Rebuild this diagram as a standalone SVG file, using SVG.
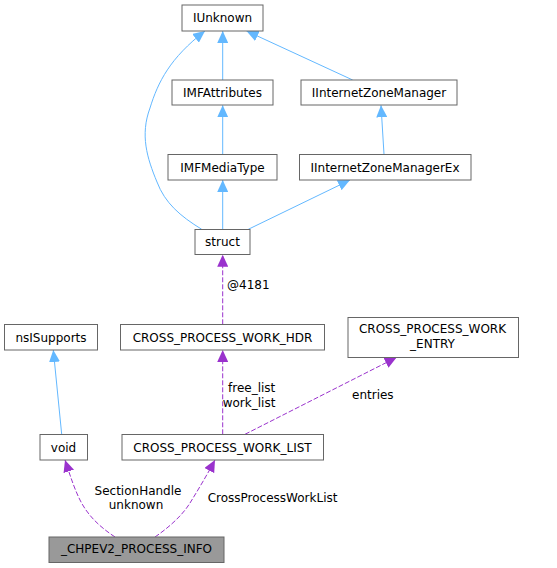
<svg xmlns="http://www.w3.org/2000/svg" width="557" height="568" viewBox="0 0 557 568">
<style>
.node rect{fill:#ffffff;stroke:#666666;stroke-width:1}
.node.root rect{fill:#999999}
text{font-family:"DejaVu Sans","Liberation Sans",sans-serif;font-size:12px;fill:#000000}
.node text{text-anchor:middle}
.inh{fill:none;stroke:#63B8FF;stroke-width:1}
.use{fill:none;stroke:#9A32CD;stroke-width:1;stroke-dasharray:5,2}
</style>
<defs>
<marker id="ab" viewBox="0 0 12 11" refX="12" refY="5.5" markerWidth="12" markerHeight="11" markerUnits="userSpaceOnUse" orient="auto">
<polygon points="0,0 12,5.5 0,11" fill="#63B8FF" stroke="none"/>
</marker>
<marker id="ap" viewBox="0 0 12 11" refX="12" refY="5.5" markerWidth="12" markerHeight="11" markerUnits="userSpaceOnUse" orient="auto">
<polygon points="0,0 12,5.5 0,11" fill="#9A32CD" stroke="none"/>
</marker>
</defs>
<g id="edges">
<path class="inh" d="M222.7,80 L222.7,31" marker-end="url(#ab)"/>
<path class="inh" d="M352.7,80 L246.5,31" marker-end="url(#ab)"/>
<path class="inh" d="M201.7,229.3 C180,216 165,203 157,182 C147,158 140,135 150,108 C158,82 170,58 205,31" marker-end="url(#ab)"/>
<path class="inh" d="M222.7,154.3 L222.7,105.3" marker-end="url(#ab)"/>
<path class="inh" d="M384,154.3 L381,105.3" marker-end="url(#ab)"/>
<path class="inh" d="M222.7,229.3 L222.7,180" marker-end="url(#ab)"/>
<path class="inh" d="M248.3,229.3 L350,180" marker-end="url(#ab)"/>
<path class="use" d="M222.7,324.3 L222.7,254.7" marker-end="url(#ap)"/>
<path class="inh" d="M61.7,434.3 L53.3,350" marker-end="url(#ab)"/>
<path class="use" d="M222.7,434.3 L222.7,350" marker-end="url(#ap)"/>
<path class="use" d="M245,434.3 L396.7,357.3" marker-end="url(#ap)"/>
<path class="use" d="M115,537 C100,527 88,516 80,500 C74,488 70,475 65,460" marker-end="url(#ap)"/>
<path class="use" d="M155,537 C168,528 182,516 190,503 C198,490 207,475 215,460" marker-end="url(#ap)"/>
<text x="227" y="289.3">@4181</text>
<text x="228" y="391.6">free_list</text>
<text x="222.7" y="406.6">work_list</text>
<text x="352" y="398.6">entries</text>
<text x="138" y="494.6" text-anchor="middle">SectionHandle</text>
<text x="136" y="508.6" text-anchor="middle">unknown</text>
<text x="207.7" y="501.6">CrossProcessWorkList</text>
</g>
<g id="IUnknown" class="node"><rect x="182" y="5" width="81" height="26"/><text x="222.5" y="22.3">IUnknown</text></g>
<g id="IMFAttributes" class="node"><rect x="172" y="80" width="101" height="25"/><text x="222.5" y="96.8">IMFAttributes</text></g>
<g id="IInternetZoneManager" class="node"><rect x="301" y="80" width="156" height="25"/><text x="379" y="96.8">IInternetZoneManager</text></g>
<g id="IMFMediaType" class="node"><rect x="168" y="154.5" width="109" height="25.5"/><text x="222.5" y="171.5">IMFMediaType</text></g>
<g id="IInternetZoneManagerEx" class="node"><rect x="299.5" y="154.5" width="171.5" height="25.5"/><text x="385" y="171.5">IInternetZoneManagerEx</text></g>
<g id="struct" class="node"><rect x="195" y="229.5" width="55" height="25"/><text x="222.5" y="246.3">struct</text></g>
<g id="nsISupports" class="node"><rect x="4.5" y="324.5" width="93" height="25.5"/><text x="51" y="341.5">nsISupports</text></g>
<g id="CROSS_PROCESS_WORK_HDR" class="node"><rect x="120.5" y="324.5" width="204" height="25.5"/><text x="222.5" y="341.5">CROSS_PROCESS_WORK_HDR</text></g>
<g id="CROSS_PROCESS_WORK_ENTRY" class="node"><rect x="348" y="317.5" width="170.5" height="40"/><text x="432.5" y="333">CROSS_PROCESS_WORK</text><text x="432.5" y="347.6">_ENTRY</text></g>
<g id="void" class="node"><rect x="40" y="434.5" width="47.5" height="25.5"/><text x="63.5" y="451.5">void</text></g>
<g id="CROSS_PROCESS_WORK_LIST" class="node"><rect x="122" y="434.5" width="201.5" height="25.5"/><text x="222.5" y="451.5">CROSS_PROCESS_WORK_LIST</text></g>
<g id="CHPEV2_PROCESS_INFO" class="node root"><rect x="49" y="537" width="175" height="25.5"/><text x="136.5" y="553">_CHPEV2_PROCESS_INFO</text></g>
</svg>
